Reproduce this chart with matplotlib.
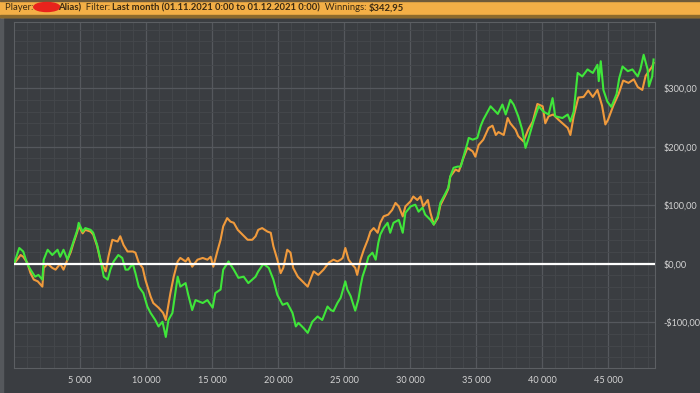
import matplotlib
matplotlib.use("Agg")
import matplotlib.pyplot as plt
from matplotlib.patches import Rectangle, Ellipse
from matplotlib.ticker import FuncFormatter, MultipleLocator, FixedLocator

# hands played vs. cumulative winnings ($)
green_hands = [0, 400, 700, 1000, 1250, 1600, 1850, 2150, 2250, 2550, 2900, 3300, 3500, 3750,
               4050, 4300, 4500, 4800, 4900, 5200, 5400, 5800, 6000, 6300, 6550, 6800, 7100,
               7300, 7550, 7900, 8200, 8450, 8650, 9000, 9200, 9450, 9800, 10100, 10350, 10700,
               10950, 11250, 11500, 11700, 12000, 12400, 12600, 13000, 13200, 13500, 13750,
               14300, 14650, 15050, 15250, 15650, 15850, 16250, 16650, 17000, 17400, 17750,
               18300, 18500, 18900, 19300, 19650, 19950, 20350, 20700, 21100, 21350, 21550,
               21950, 22250, 22600, 23000, 23350, 23750, 24000, 24200, 24500, 24750, 25100,
               25250, 25500, 25850, 26100, 26250, 26400, 26650, 26850, 27150, 27400, 27600,
               27750, 28000, 28300, 28500, 28750, 29150, 29450, 29650, 30050, 30400, 30650,
               30950, 31150, 31550, 31800, 32100, 32300, 32700, 32900, 33050, 33300, 33600,
               33850, 34050, 34350, 34450, 34750, 35100, 35350, 35550, 35950, 36100, 36350,
               36650, 37000, 37250, 37600, 37850, 38200, 38500, 38750, 38950, 39350, 39750,
               40100, 40500, 40800, 41000, 41550, 41950, 42150, 42400, 42700, 43050, 43450,
               43850, 44200, 44300, 44450, 44650, 44950, 45250, 45650, 45850, 46100, 46500,
               46850, 47250, 47450, 47700, 48000, 48100, 48350, 48450]
green_won = [0, 27, 21, 0, -10, -22, -19, -27, 7, 24, 15, 24, 12, 24,
             7, 24, 38, 58, 70, 55, 61, 58, 53, 32, 7, -22, -27,
             -10, 4, 15, 10, -10, -10, 0, -16, -39, -50, -73, -84, -96,
             -107, -99, -125, -96, -84, -22, -39, -33, -53, -79, -62,
             -67, -62, -75, -50, -44, -10, 4, -10, -24, -22, -33,
             -22, -13, 0, -7, -27, -53, -70, -67, -84, -107, -101,
             -110, -118, -99, -90, -96, -73, -79, -81, -67, -58, -30,
             -44, -55, -80, -60, -39, -22, -5, 12, 19, 7, 36,
             50, 61, 70, 53, 70, 75, 53, 87, 98, 101, 89,
             96, 84, 75, 67, 81, 104, 121, 130, 149, 164, 166,
             166, 183, 206, 215, 212, 215, 235, 246, 263, 269, 263,
             256, 272, 255, 280, 272, 252, 229, 198, 212, 243, 269,
             260, 255, 283, 252, 249, 255, 243, 260, 326, 320, 332,
             326, 340, 312, 346, 297, 277, 268, 290, 317, 337, 329,
             332, 320, 332, 357, 332, 303, 320, 349]

orange_hands = [0, 500, 700, 1000, 1250, 1500, 1800, 2150, 2250, 2550, 2900, 3150, 3500, 3750,
                4050, 4300, 4500, 4800, 4900, 5200, 5400, 5800, 6000, 6300, 6550, 6950, 7150,
                7450, 7850, 8050, 8300, 8600, 9000, 9200, 9450, 9750, 9950, 10350, 10550, 10950,
                11300, 11500, 11700, 11850, 12100, 12400, 12600, 13000, 13200, 13500, 13900,
                14300, 14650, 14900, 15100, 15400, 15650, 15850, 16150, 16400, 16650, 16950,
                17300, 17700, 18050, 18300, 18500, 18800, 19200, 19450, 19650, 19950, 20200,
                20400, 20700, 20950, 21150, 21500, 21850, 22250, 22450, 22700, 23050, 23450,
                23850, 24200, 24500, 24750, 24900, 25100, 25350, 25650, 25850, 26000, 26250,
                26500, 26800, 27000, 27250, 27550, 27750, 28000, 28350, 28650, 28900, 29150,
                29450, 29650, 30050, 30250, 30550, 30800, 31000, 31350, 31550, 31800, 32100,
                32300, 32700, 32900, 33050, 33450, 33700, 34000, 34350, 34750, 34950, 35200,
                35550, 35950, 36250, 36500, 36700, 37100, 37400, 37600, 38000, 38200, 38600,
                38950, 39300, 39650, 40050, 40250, 40500, 40850, 41250, 41650, 41950, 42150,
                42400, 42750, 43150, 43500, 43850, 44200, 44550, 44800, 45000, 45400, 45800,
                46150, 46550, 46950, 47250, 47600, 47850, 48100, 48350, 48450]
orange_won = [0, 15, 12, 2, -16, -27, -30, -39, -7, 0, -7, -10, 0, -10,
              7, 20, 35, 55, 65, 52, 58, 55, 50, 30, 5, -13, 12,
              41, 38, 47, 32, 21, 21, 19, 2, -7, -27, -56, -67, -75,
              -84, -96, -70, -50, -22, 4, 10, 4, 10, -5, 7,
              10, 7, 12, -5, 21, 41, 64, 78, 72, 70, 58,
              50, 41, 41, 47, 58, 61, 55, 53, 30, 7, -16,
              -7, 24, 19, -7, -22, -30, -39, -27, -13, -19, -10,
              2, 7, 4, 7, 10, 27, 7, -2, -7, -19, 7,
              24, 41, 55, 61, 53, 70, 81, 84, 92, 104, 98,
              81, 98, 107, 115, 109, 115, 98, 109, 87, 67, 78,
              100, 118, 128, 149, 161, 158, 178, 198, 192, 183, 203,
              212, 232, 236, 220, 225, 220, 249, 240, 229, 218, 209,
              229, 243, 273, 269, 240, 252, 255, 246, 238, 232, 220,
              252, 284, 285, 296, 285, 297, 270, 238, 246, 270, 290,
              313, 309, 315, 302, 297, 321, 329, 337, 343]

x_ticks = [5000, 10000, 15000, 20000, 25000, 30000, 35000, 40000, 45000]
y_ticks = [-100, 0, 100, 200, 300]

header_parts = [("Player: ", "normal"), (None, None), ("Alias)", "bold"),
                ("  Filter: ", "normal"),
                ("Last month (01.11.2021 0:00 to 01.12.2021 0:00)", "bold"),
                ("  Winnings: ", "normal"), ("$342,95", "bold")]

BG = "#3a3d41"
GRID_MAJ = "#55585d"
GRID_MIN = "#45484c"
TXT = "#d4d4d4"

plt.rcParams["font.family"] = ["Lato", "DejaVu Sans"]

fig = plt.figure(figsize=(7, 3.93), dpi=100, facecolor=BG)
ax = fig.add_axes([14 / 700, 25 / 393, 641 / 700, 346 / 393])
ax.set_facecolor(BG)

ax.plot(orange_hands, orange_won, color="#f09a3c", lw=1.5, zorder=3)
ax.plot(green_hands, green_won, color="#3fe63a", lw=1.5, zorder=4)
ax.axhline(0, color="white", lw=1.6, zorder=5)

ax.set_xlim(0, 48560)
ax.set_ylim(-178, 413)

ax.xaxis.set_major_locator(FixedLocator(x_ticks))
ax.xaxis.set_minor_locator(MultipleLocator(1000))
ax.yaxis.set_major_locator(FixedLocator(y_ticks))
ax.yaxis.set_minor_locator(MultipleLocator(20))
ax.xaxis.set_major_formatter(FuncFormatter(lambda v, p: f"{int(v):,}".replace(",", " ")))


def money(v, p):
    s = f"${abs(v):,.2f}".replace(".", ",")
    return "-" + s if v < 0 else s


ax.yaxis.set_major_formatter(FuncFormatter(money))
ax.yaxis.tick_right()
ax.tick_params(axis="both", which="both", length=0, colors=TXT, labelsize=6.6)
ax.tick_params(axis="y", pad=6)
ax.tick_params(axis="x", pad=6)

ax.grid(True, which="major", color=GRID_MAJ, lw=0.9, zorder=0)
ax.grid(True, which="minor", color=GRID_MIN, lw=0.6, zorder=0)
for s in ax.spines.values():
    s.set_color("#5c5f63")
    s.set_linewidth(0.8)

# window edge on the left
fig.patches.append(Rectangle((0, 0), 3 / 700, 1, transform=fig.transFigure,
                             color="#55585c", zorder=0))

# orange title bar
fig.patches.append(Rectangle((0, 376 / 393), 1, 17 / 393, transform=fig.transFigure,
                             color="#f3af46", zorder=1))
fig.patches.append(Rectangle((0, 376 / 393), 1, 2 / 393, transform=fig.transFigure,
                             color="#8c6a2c", zorder=2))
fig.patches.append(Rectangle((0, 392 / 393), 1, 1 / 393, transform=fig.transFigure,
                             color="#6e5a3a", zorder=2))

renderer = fig.canvas.get_renderer()
xpos = 5
ypos = 385
for text, weight in header_parts:
    if text is None:
        fig.patches.append(Ellipse(((xpos + 11) / 700, (ypos + 1) / 393), 26 / 700, 9 / 393,
                                   transform=fig.transFigure, color="#e8231c", zorder=3))
        xpos += 22
        continue
    t = fig.text(xpos / 700, ypos / 393, text, fontsize=6.8, fontweight=weight,
                 color="#3b2a12", va="center", ha="left", zorder=4)
    bb = t.get_window_extent(renderer)
    xpos = bb.x1

fig.savefig("out.png", dpi=100, facecolor=BG)
